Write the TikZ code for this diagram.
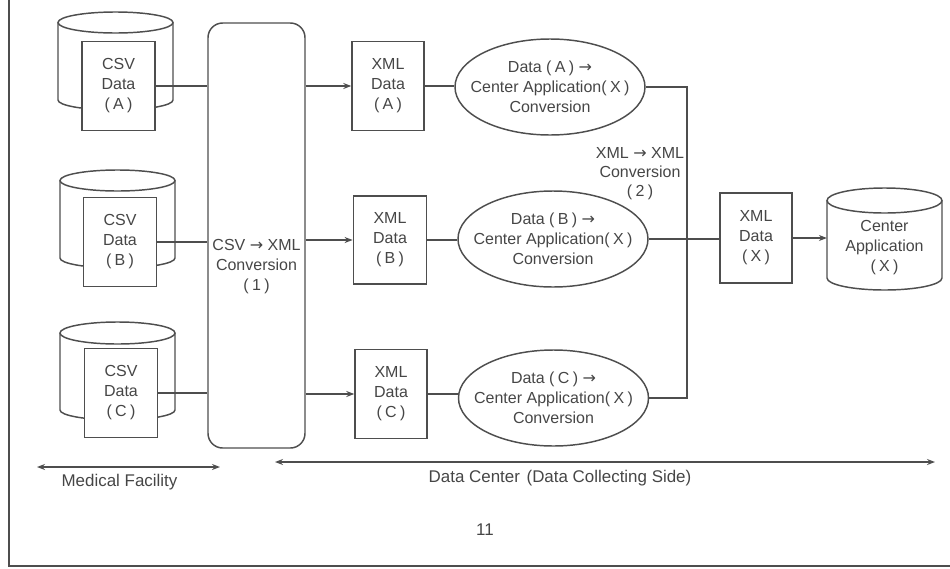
\documentclass[tikz,border=0pt]{standalone}
\usepackage{fontspec}
\setmainfont{Liberation Sans}
\newfontfamily\djv{DejaVu Sans}
\usetikzlibrary{shapes.geometric,arrows.meta}
\newcommand{\ra}{{\djv\char"2192}}
\newcommand{\pp}[1]{(\hspace{2.5pt}#1\hspace{2.5pt})}
\newcommand{\cylshape}[6]{% x1 x2 ytop rytop ybot rybot
  \draw[conn] (#1,#3) -- (#1,#5) arc[start angle=180,end angle=0,x radius={(#2-#1)/2},y radius=#6] -- (#2,#3);
  \draw[conn] ({(#1+#2)/2},#3) ellipse [x radius={(#2-#1)/2},y radius=#4];}
\definecolor{linec}{RGB}{78,78,78}
\definecolor{textc}{RGB}{70,70,70}
\begin{document}
\begin{tikzpicture}[x=0.75pt,y=-0.75pt,
  conn/.style={draw=linec,line width=1.1pt},
  arr/.style={-{Stealth[length=6pt,width=4.5pt]}},
  dblarr/.style={{Stealth[length=6pt,width=4.5pt]}-{Stealth[length=6pt,width=4.5pt]}},
  txt/.style={text=textc,align=center,inner sep=0pt,font=\fontsize{12}{15}\selectfont},
  box/.style={txt,conn,fill=white,rectangle,minimum width=55pt,minimum height=66.5pt},
  ell/.style={conn,ellipse,inner sep=0pt,minimum width=142.5pt,minimum height=72pt},
  lbl/.style={text=textc,inner sep=0pt,font=\fontsize{12.7}{15}\selectfont}]
\useasboundingbox (0,0) rectangle (950,568);
% frame
\draw[draw=linec,line width=1.5pt] (9,0) -- (9,566) -- (950,566);
% cylinders
\cylshape{58}{173}{22.5}{10.5}{100}{10}
\cylshape{60}{175}{180.5}{10.5}{258}{10}
\cylshape{60}{175}{333}{11}{410}{10}
\cylshape{827}{942}{200.5}{12.5}{278}{12}
% CSV boxes
\node[box] (csvA) at (118.5,86) {CSV\\Data\\\pp{A}};
\node[box] (csvB) at (120,242) {CSV\\Data\\\pp{B}};
\node[box] (csvC) at (121,393) {CSV\\Data\\\pp{C}};
% conversion (1)
\node[conn,rectangle,rounded corners=11pt,minimum width=72.75pt,minimum height=318.75pt,inner sep=0pt] (conv1) at (256.5,235.5) {};
\node[txt] (conv1lbl) at (256.5,267) {CSV \ra{} XML\\Conversion\\\pp{1}};
% XML boxes
\node[box,minimum width=54pt,minimum height=67pt] (xmlA) at (388,86) {XML\\Data\\\pp{A}};
\node[box,minimum width=55pt,minimum height=66pt] (xmlB) at (390,240) {XML\\Data\\\pp{B}};
\node[box,minimum width=54pt,minimum height=67pt] (xmlC) at (391,394) {XML\\Data\\\pp{C}};
% ellipses
\node[ell,label={[txt]center:{Data \pp{A} \ra\\Center Application\pp{X}\\Conversion}}] (ellA) at (550,87) {};
\node[ell,label={[txt]center:{Data \pp{B} \ra\\Center Application\pp{X}\\Conversion}}] (ellB) at (553,239) {};
\node[ell,label={[txt]center:{Data \pp{C} \ra\\Center Application\pp{X}\\Conversion}}] (ellC) at (553.5,398) {};
% conversion (2) label
\node[txt,font=\fontsize{12}{14.25}\selectfont] (conv2) at (640,174) {XML \ra{} XML\\Conversion\\\pp{2}};
% XML X and center application
\node[box,minimum width=54pt,minimum height=67.5pt] (xmlX) at (756,238) {XML\\Data\\\pp{X}};
\node[txt,minimum width=86pt,minimum height=60pt] (capp) at (884.5,248) {Center\\Application\\\pp{X}};
\coordinate (J) at (687,239);
% connectors
\draw[conn] (csvA.east) -- (csvA.east -| conv1.west);
\draw[conn] (csvB.east) -- (csvB.east -| conv1.west);
\draw[conn] (csvC.east) -- (csvC.east -| conv1.west);
\draw[conn,arr] (conv1.east |- xmlA.west) -- (xmlA.west);
\draw[conn,arr] (conv1.east |- xmlB.west) -- (xmlB.west);
\draw[conn,arr] (conv1.east |- xmlC.west) -- (xmlC.west);
\draw[conn] (xmlA.east) -- (xmlA.east -| ellA.west);
\draw[conn] (xmlB.east) -- (xmlB.east -| ellB.west);
\draw[conn] (xmlC.east) -- (xmlC.east -| ellC.west);
\draw[conn] (ellA.east) -| (J);
\draw[conn] (ellC.east) -| (J);
\draw[conn] (ellB.east) -- (J) -- (J -| xmlX.west);
\draw[conn,arr] (xmlX.east) -- (xmlX.east -| capp.west);
% bottom scale
\coordinate (m1) at (37,467);
\coordinate (m2) at (220,467);
\coordinate (d1) at (275,462);
\coordinate (d2) at (935,462);
\draw[conn,dblarr] (m1) -- (m2);
\draw[conn,dblarr] (d1) -- (d2);
\node[lbl] (medlbl) at (119.5,482) {Medical Facility};
\node[lbl] (dclbl) at (560,478) {Data Center\hspace{5pt}(Data Collecting Side)};
\node[lbl] (pg) at (485,530) {11};
\end{tikzpicture}
\end{document}
